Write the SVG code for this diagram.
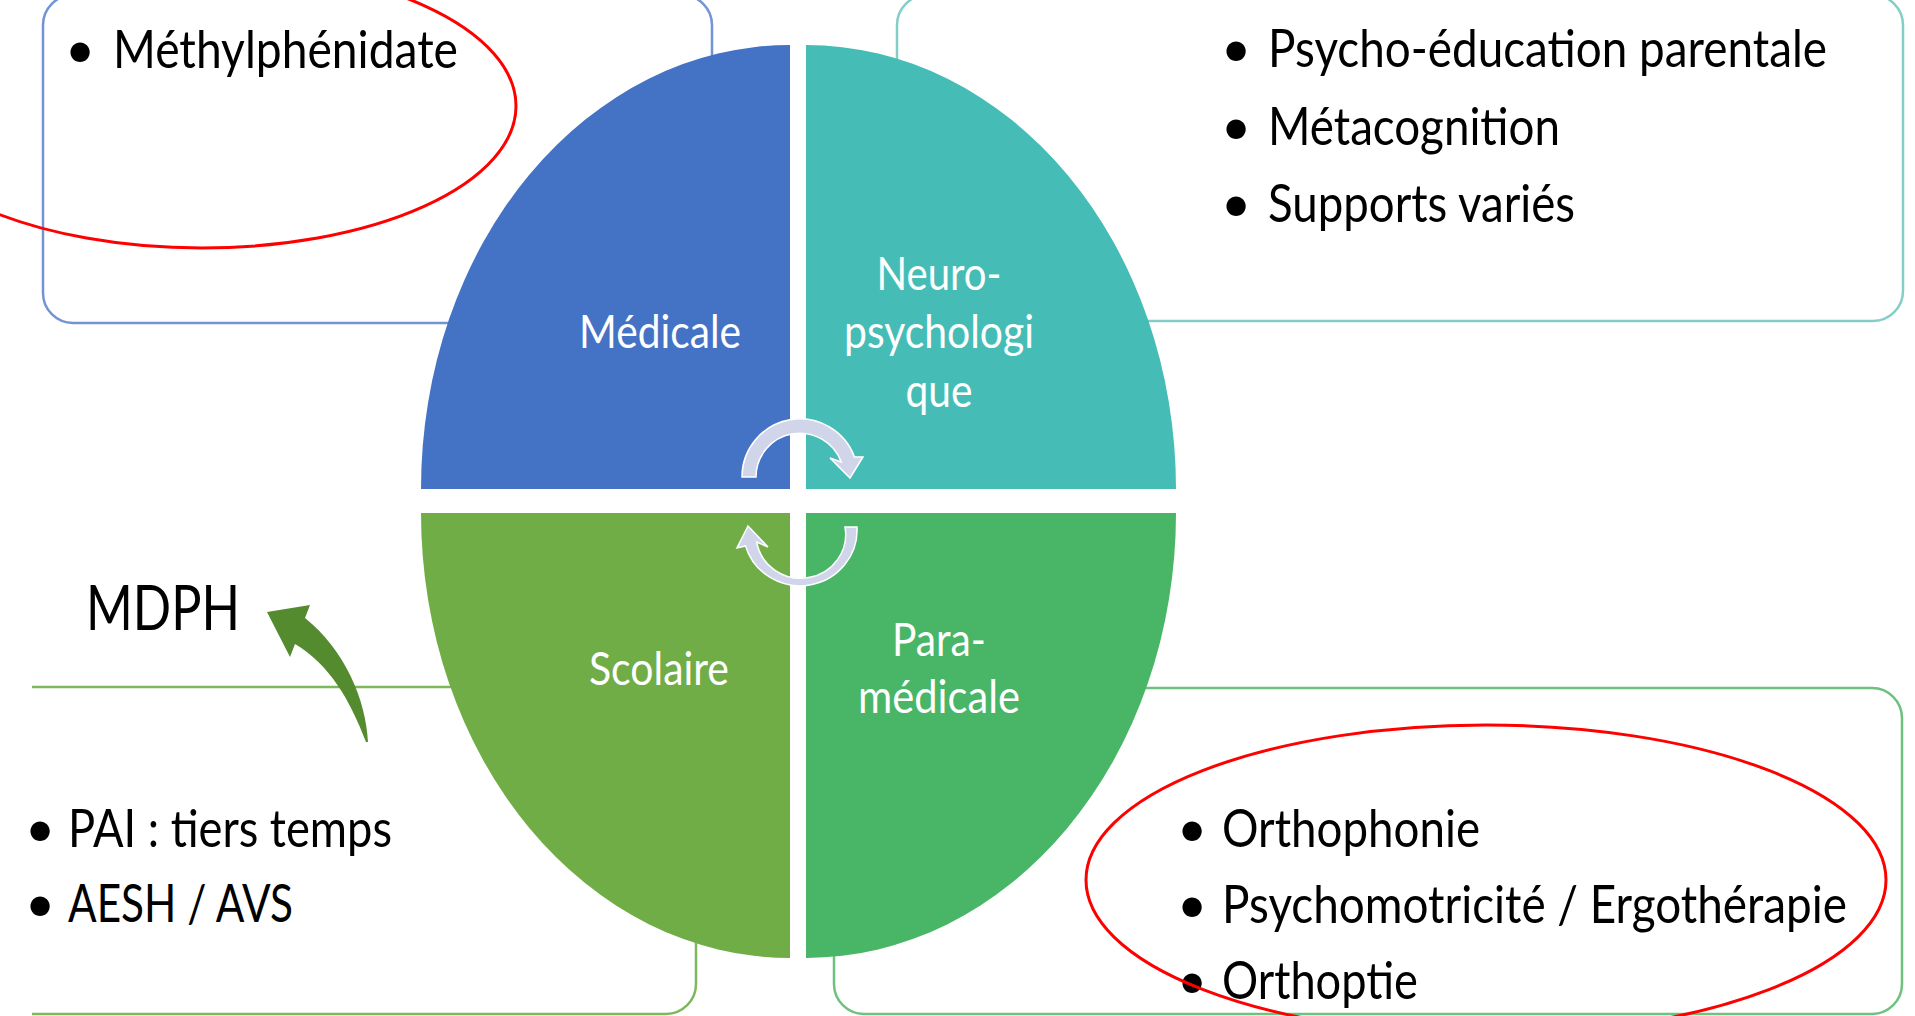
<svg xmlns="http://www.w3.org/2000/svg" width="1915" height="1016" viewBox="0 0 1915 1016">
<style>
.box{fill:#fff;stroke-width:2.5}
.lbl{font-family:Lato,"Open Sans","Liberation Sans",sans-serif;fill:#fff;font-size:46px;text-anchor:middle}
.txt{font-family:Lato,"Open Sans","Liberation Sans",sans-serif;fill:#000;font-size:52px}
.bul{font-family:Lato,"Open Sans","Liberation Sans",sans-serif;fill:#000;font-size:52px}
.cyc{fill:#D0D5EA;stroke:#fff;stroke-width:1.5}
.mark{fill:none;stroke:#FF0000;stroke-width:3}
</style>
<rect width="1915" height="1016" fill="#fff"/>

<g id="box-medicale">
<rect class="box" x="43" y="-5" width="669" height="328" rx="30" stroke="#7394D4"/>
<text class="bul" x="65" y="68">•</text>
<text class="txt" x="113" y="68" textLength="345" lengthAdjust="spacingAndGlyphs">Méthylphénidate</text>
</g>

<g id="box-neuro">
<rect class="box" x="897" y="-5" width="1006" height="326" rx="30" stroke="#85CEC8"/>
<text class="bul" x="1221" y="67">•</text>
<text class="txt" x="1268" y="67" textLength="559" lengthAdjust="spacingAndGlyphs">Psycho-éducation parentale</text>
<text class="bul" x="1221" y="145">•</text>
<text class="txt" x="1268" y="145" textLength="292" lengthAdjust="spacingAndGlyphs">Métacognition</text>
<text class="bul" x="1221" y="222">•</text>
<text class="txt" x="1268" y="222" textLength="307" lengthAdjust="spacingAndGlyphs">Supports variés</text>
</g>

<g id="box-scolaire">
<path class="box" d="M32 687 H666 A30 30 0 0 1 696 717 V984 A30 30 0 0 1 666 1014 H32" stroke="#7DB85A"/>
<text class="bul" x="25" y="847">•</text>
<text class="txt" x="68" y="847" textLength="324" lengthAdjust="spacingAndGlyphs">PAI : tiers temps</text>
<text class="bul" x="25" y="922">•</text>
<text class="txt" x="68" y="922" textLength="225" lengthAdjust="spacingAndGlyphs">AESH / AVS</text>
</g>

<g id="box-paramedicale">
<rect class="box" x="834" y="688" width="1068" height="326" rx="30" stroke="#6CC27E"/>
<text class="bul" x="1177" y="847">•</text>
<text class="txt" x="1222" y="847" textLength="258" lengthAdjust="spacingAndGlyphs">Orthophonie</text>
<text class="bul" x="1177" y="923">•</text>
<text class="txt" x="1222" y="923" textLength="625" lengthAdjust="spacingAndGlyphs">Psychomotricité / Ergothérapie</text>
<text class="bul" x="1177" y="999">•</text>
<text class="txt" x="1222" y="999" textLength="196" lengthAdjust="spacingAndGlyphs">Orthoptie</text>
</g>

<g id="mdph">
<text class="txt" x="86" y="630" textLength="154" lengthAdjust="spacingAndGlyphs" style="font-size:62px">MDPH</text>
</g>

<g id="q-medicale">
<path d="M790 489 L421 489 A369 444 0 0 1 790 45 Z" fill="#4472C4"/>
<text class="lbl" x="660" y="348" textLength="162" lengthAdjust="spacingAndGlyphs">Médicale</text>
</g>
<g id="q-neuro">
<path d="M806 489 L806 45 A370 444 0 0 1 1176 489 Z" fill="#45BDB6"/>
<text class="lbl" x="939" y="290" textLength="125" lengthAdjust="spacingAndGlyphs">Neuro-</text>
<text class="lbl" x="939" y="348" textLength="190" lengthAdjust="spacingAndGlyphs">psychologi</text>
<text class="lbl" x="939" y="407" textLength="67" lengthAdjust="spacingAndGlyphs">que</text>
</g>
<g id="q-scolaire">
<path d="M790 513 L790 958 A369 445 0 0 1 421 513 Z" fill="#70AD47"/>
<text class="lbl" x="659" y="685" textLength="140" lengthAdjust="spacingAndGlyphs">Scolaire</text>
</g>
<g id="q-paramedicale">
<path d="M806 513 L1176 513 A370 445 0 0 1 806 958 Z" fill="#48B666"/>
<text class="lbl" x="939" y="656" textLength="94" lengthAdjust="spacingAndGlyphs">Para-</text>
<text class="lbl" x="939" y="713" textLength="162" lengthAdjust="spacingAndGlyphs">médicale</text>
</g>

<g id="connectors">
<path class="cyc" d="M742 477 A58 58 0 0 1 854.5 457 L863 457 L850 478 L830 458 L841.3 462 A44 44 0 0 0 756 477 Z"/>
<path class="cyc" d="M857 527 A57 56 0 0 1 745.5 546 L737 548 L748 526 L768 547 L756.7 542 A44 43 0 0 0 845 527 Z"/>
<path d="M368 742 C366 700 345 650 305 618 L310 605 L267 612 L290 657 L295 644 C330 665 350 700 366 742 Z" fill="#558B2F"/>
</g>

<g id="annotations">
<ellipse class="mark" cx="202" cy="106" rx="314" ry="142"/>
<ellipse class="mark" cx="1486" cy="880" rx="400" ry="155"/>
</g>
</svg>
